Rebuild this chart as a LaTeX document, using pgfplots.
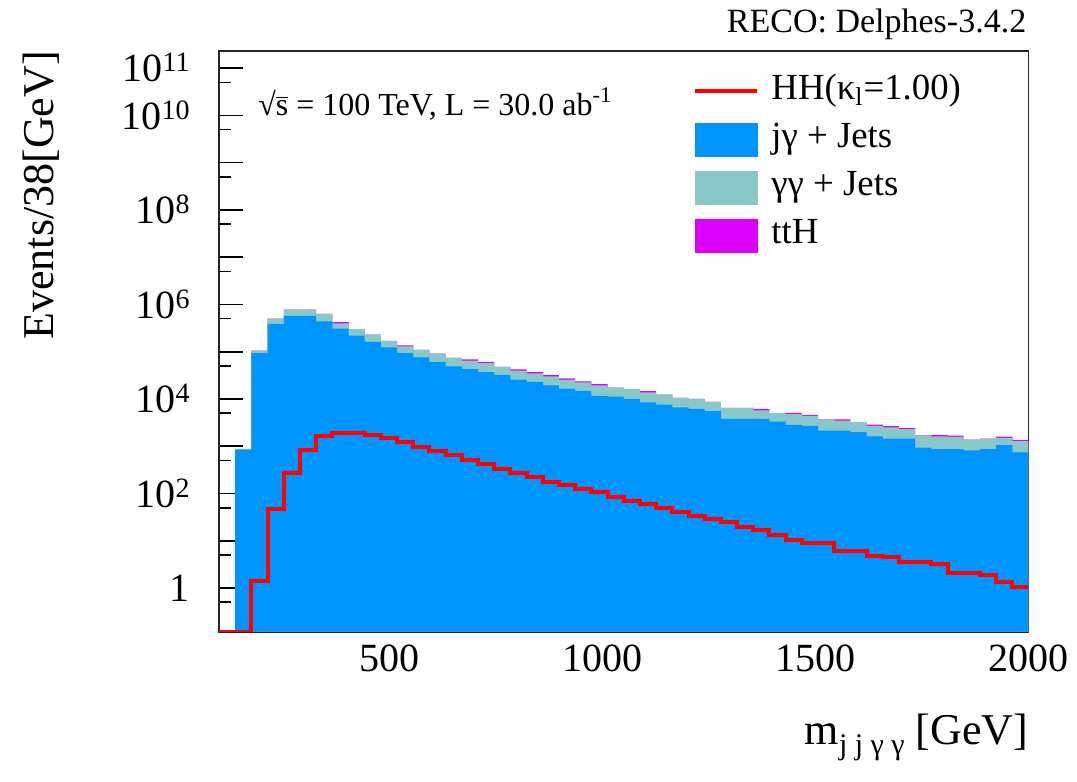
\documentclass[border=0pt]{standalone}
\usepackage{pgfplots}
\pgfplotsset{compat=1.18}
\usepackage{pgfplotstable}
\usepackage{fontspec}
\setmainfont{Liberation Serif}

\definecolor{jgblue}{RGB}{0,148,255}
\definecolor{ggteal}{RGB}{136,200,200}
\definecolor{tthmag}{RGB}{221,0,255}

\newcommand\tl[1]{10\raisebox{5pt}{\fontsize{14}{14}\selectfont #1}}

\pgfplotstableread{
x blue teal tth hh
100 0 0 0 0.12
138 851 871 871 0.12
176 93300 105000 105000 1.41
214 389000 501000 501000 46.8
252 575000 776000 776000 275
290 575000 776000 776000 832
328 437000 631000 631000 1622
366 309000 398000 422000 1950
404 219000 302000 302000 1950
442 162000 229000 229000 1738
480 123000 170000 170000 1479
518 93300 129000 137000 1202
556 75900 110000 110000 955
594 60300 91200 91200 776
632 49000 74100 74100 661
670 42700 64600 68500 513
708 37200 57500 61000 417
746 32400 47900 47900 331
784 25700 39800 42200 269
822 22900 34700 36800 224
860 19500 30200 32000 174
898 16600 25700 27200 151
936 14800 22400 23700 126
974 11700 19500 20700 107
1012 11200 17400 17400 85.1
1050 10000 16200 16200 69.2
1088 8510 13800 14600 60.3
1126 7590 12300 12300 49.0
1164 6610 10500 10500 39.8
1202 6170 10000 10000 33.9
1240 5500 8710 8710 28.8
1278 3800 6460 6460 25.1
1316 3800 6460 6460 20.0
1354 3800 5750 6100 16.6
1392 3310 5010 5010 13.2
1430 2820 4790 5080 10.5
1468 2690 4370 4630 9.12
1506 2140 3720 3720 9.12
1544 2140 3470 3680 6.17
1582 2000 3240 3240 6.17
1620 1620 2690 2850 4.79
1658 1450 2510 2660 4.47
1696 1450 2290 2430 3.63
1734 933 1700 1700 3.63
1772 871 1620 1720 3.16
1810 871 1580 1670 2.04
1848 813 1380 1380 2.04
1886 871 1450 1450 1.86
1924 1050 1510 1600 1.32
1962 741 1290 1370 1.07
2000 741 1290 1370 1.07
}\datatable

\begin{document}
\begin{tikzpicture}
\begin{axis}[
  scale only axis, width=404.75pt, height=290.5pt,
  xmin=100, xmax=2000,
  ymode=log, ymin=0.1191, ymax=2.34e11,
  log origin y=infty,
  axis line style={line width=0.9pt, black!85},
  xtick={500,1000,1500,2000},
  xticklabels={500,1000,1500,2000},
  minor xtick={200,300,400,600,700,800,900,1100,1200,1300,1400,1600,1700,1800,1900},
  ytick={1,10,100,1e3,1e4,1e5,1e6,1e7,1e8,1e9,1e10,1e11},
  yticklabels={1,,\tl{2},,\tl{4},,\tl{6},,\tl{8},,\tl{10},\tl{11}},
  minor ytick={0.5,5,50,500,5e3,5e4,5e5,5e6,5e7,5e8,5e9,5e10},
  xtick pos=bottom, ytick pos=left, tick align=inside,
  xtick style={line width=0.8pt, black, /pgfplots/major tick length=8.5pt, /pgfplots/minor tick length=4pt},
  ytick style={line width=0.8pt, black, /pgfplots/major tick length=12pt, /pgfplots/minor tick length=6pt},
  xticklabel style={font=\fontsize{20}{20}\selectfont, inner sep=0pt, yshift=-6.5pt},
  yticklabel style={font=\fontsize{20}{20}\selectfont, inner sep=0pt, anchor=base east, xshift=-14.5pt, yshift=-6.8pt},
  xlabel={m\raisebox{-5pt}{\fontsize{15}{15}\selectfont j j γ γ} [GeV]},
  xlabel style={font=\fontsize{22}{22}\selectfont, at={(axis description cs:1,0)}, anchor=base east, inner sep=0pt, yshift=-56.5pt},
  ylabel={Events/38[GeV]},
  ylabel style={font=\fontsize{22}{22}\selectfont, at={(axis description cs:-0.2199,1)}, anchor=east, inner sep=0pt},
  legend cell align=left,
  legend style={draw=none, fill=none, at={(axis description cs:0.5856,0.9616)}, anchor=north west,
    font=\fontsize{18.4}{18.4}\selectfont, inner sep=0pt, row sep=6pt,
    nodes={inner sep=0pt, text height=13pt, text depth=5pt},
    /tikz/every odd column/.append style={column sep=6pt}},
]
\addplot[const plot, fill=tthmag, draw=none, forget plot] table[x=x,y=tth]{\datatable} \closedcycle;
\addplot[const plot, fill=ggteal, draw=none, forget plot] table[x=x,y=teal]{\datatable} \closedcycle;
\addplot[const plot, fill=jgblue, draw=none, forget plot] table[x=x,y=blue]{\datatable} \closedcycle;
\addplot[const plot, red, line width=2pt, forget plot] table[x=x,y=hh]{\datatable};

\addlegendimage{legend image code/.code={\draw[red, line width=2pt] (0pt,0pt) -- (31pt,0pt);}}
\addlegendentry{HH(κ\textsubscript{l}=1.00)}
\addlegendimage{legend image code/.code={\fill[jgblue] (0pt,-8.25pt) rectangle (31pt,8.25pt);}}
\addlegendentry{jγ + Jets}
\addlegendimage{legend image code/.code={\fill[ggteal] (0pt,-8.25pt) rectangle (31pt,8.25pt);}}
\addlegendentry{γγ + Jets}
\addlegendimage{legend image code/.code={\fill[tthmag] (0pt,-8.25pt) rectangle (31pt,8.25pt);}}
\addlegendentry{ttH}

\node[anchor=base west, inner sep=0pt, font=\fontsize{16}{16}\selectfont] at (axis description cs:0.048,0.889)
  {√\(\overline{\mbox{s}}\) = 100 TeV, L = 30.0 ab\textsuperscript{-1}};
\coordinate (bl) at (rel axis cs:0,0);
\coordinate (tr) at (rel axis cs:1,1);
\end{axis}
\node[anchor=base east, inner sep=0pt, font=\fontsize{17}{17}\selectfont] at ([xshift=-0.9pt,yshift=9.2pt]tr) {RECO: Delphes-3.4.2};
\pgfresetboundingbox
\path[use as bounding box] ([xshift=-109.5pt,yshift=-75.15pt]bl) rectangle ([xshift=24.25pt,yshift=25.35pt]tr);
\end{tikzpicture}
\end{document}
